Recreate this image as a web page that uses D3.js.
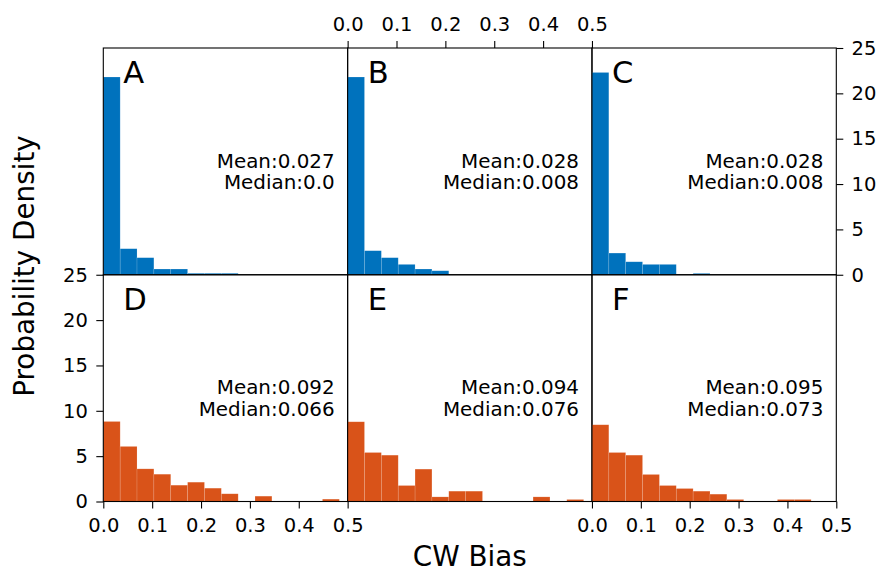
<!DOCTYPE html>
<html>
<head>
<meta charset="utf-8">
<script src="https://cdn.jsdelivr.net/npm/d3@7"></script>
<style>
  html, body { margin: 0; padding: 0; background: #fff; }
  svg { display: block; }
  text { font-family: "DejaVu Sans", sans-serif; fill: #000; }
</style>
</head>
<body>
<svg id="chart" width="881" height="572"></svg>
<script>
// ---------------- data ----------------
const panelLabels = ["A", "B", "C", "D", "E", "F"];
const binWidth = 0.0345;
const densityA = [21.8, 2.87, 1.88, 0.63, 0.63, 0.16, 0.16, 0.16];
const densityB = [21.8, 2.65, 1.88, 1.14, 0.63, 0.44];
const densityC = [22.3, 2.39, 1.43, 1.14, 1.14, 0, 0.15];
const densityD = [8.82, 6.07, 3.60, 3.01, 1.80, 2.13, 1.47, 0.85, 0, 0.59, 0, 0, 0, 0.26];
const densityE = [8.79, 5.40, 5.11, 1.76, 3.57, 0.51, 1.14, 1.14, 0, 0, 0, 0.51, 0, 0.22];
const densityF = [8.46, 5.40, 5.11, 2.98, 1.76, 1.43, 1.14, 0.81, 0.22, 0, 0, 0.22, 0.22];
const means = ["0.027", "0.028", "0.028", "0.092", "0.094", "0.095"];
const medians = ["0.0", "0.008", "0.008", "0.066", "0.076", "0.073"];
const xTicks = [0, 0.1, 0.2, 0.3, 0.4, 0.5];
const yTicks = [0, 5, 10, 15, 20, 25];
const xLabel = "CW Bias";
const yLabel = "Probability Density";
const seriesColors = ["#0072BD", "#D95319"];

// ---------------- layout ----------------
const densities = [densityA, densityB, densityC, densityD, densityE, densityF];
const plotLeft = 103.3, plotTop = 48, plotRight = 836.3, plotBottom = 501.5;
const cols = 3, rows = 2;
const pw = (plotRight - plotLeft) / cols;
const ph = (plotBottom - plotTop) / rows;

const svg = d3.select("#chart");

const x = d3.scaleLinear().domain([0, 0.5]).range([0, pw]);
const y = d3.scaleLinear().domain([0, 25]).range([ph, 0]);

const tickFont = 19.5;
const statFont = 19.9;
const tickLen = 7;

// which axes each panel shows
const axesFor = {
  A: [], B: ["top"], C: ["right"],
  D: ["left", "bottom"], E: [], F: ["bottom"]
};

panelLabels.forEach((lab, i) => {
  const r = Math.floor(i / cols), c = i % cols;
  const g = svg.append("g")
    .attr("transform", `translate(${plotLeft + c * pw},${plotTop + r * ph})`);
  const color = seriesColors[r];
  const bins = densities[i].map((v, k) => ({ x0: k * binWidth, x1: (k + 1) * binWidth, v }));

  g.selectAll("rect.bar").data(bins.filter(b => b.v > 0)).join("rect")
    .attr("class", "bar")
    .attr("x", d => x(d.x0))
    .attr("width", d => x(d.x1) - x(d.x0))
    .attr("y", d => y(d.v))
    .attr("height", d => y(0) - y(d.v))
    .attr("fill", color)
    .attr("stroke", "#fff")
    .attr("stroke-opacity", 0.22)
    .attr("stroke-width", 0.6);

  // panel letter
  g.append("text")
    .attr("x", 20).attr("y", 35)
    .attr("font-size", 30.6)
    .text(lab);

  // stats
  g.append("text")
    .attr("x", pw - 13).attr("y", 119.7)
    .attr("text-anchor", "end")
    .attr("font-size", statFont)
    .text("Mean:" + means[i]);
  g.append("text")
    .attr("x", pw - 13).attr("y", 141.2)
    .attr("text-anchor", "end")
    .attr("font-size", statFont)
    .text("Median:" + medians[i]);

  // axes
  const styleAxis = sel => {
    sel.select(".domain").remove();
    sel.selectAll(".tick line").attr("stroke", "#000").attr("stroke-width", 1.1);
    sel.selectAll(".tick text").attr("font-size", tickFont)
      .attr("font-family", "DejaVu Sans, sans-serif").attr("fill", "#000");
  };
  axesFor[lab].forEach(side => {
    let ax, tr = "";
    if (side === "top") {
      ax = d3.axisTop(x).tickValues(xTicks).tickFormat(d3.format(".1f")).tickSize(tickLen).tickPadding(10.5);
    } else if (side === "bottom") {
      ax = d3.axisBottom(x).tickValues(xTicks).tickFormat(d3.format(".1f")).tickSize(tickLen).tickPadding(9.5);
      tr = `translate(0,${ph})`;
    } else if (side === "left") {
      ax = d3.axisLeft(y).tickValues(yTicks).tickFormat(d3.format("d")).tickSize(tickLen).tickPadding(8.4);
    } else {
      ax = d3.axisRight(y).tickValues(yTicks).tickFormat(d3.format("d")).tickSize(tickLen).tickPadding(8.3);
      tr = `translate(${pw},0)`;
    }
    g.append("g").attr("transform", tr).call(ax).call(styleAxis);
  });

  // frame
  g.append("rect")
    .attr("x", 0).attr("y", 0).attr("width", pw).attr("height", ph)
    .attr("fill", "none").attr("stroke", "#000").attr("stroke-width", 1.1);
});

// axis titles
svg.append("text")
  .attr("x", (plotLeft + plotRight) / 2).attr("y", 565.5)
  .attr("text-anchor", "middle")
  .attr("font-size", 27.8)
  .text(xLabel);

svg.append("text")
  .attr("transform", "translate(33.5,266) rotate(-90)")
  .attr("text-anchor", "middle")
  .attr("font-size", 27.8)
  .text(yLabel);
</script>
</body>
</html>
